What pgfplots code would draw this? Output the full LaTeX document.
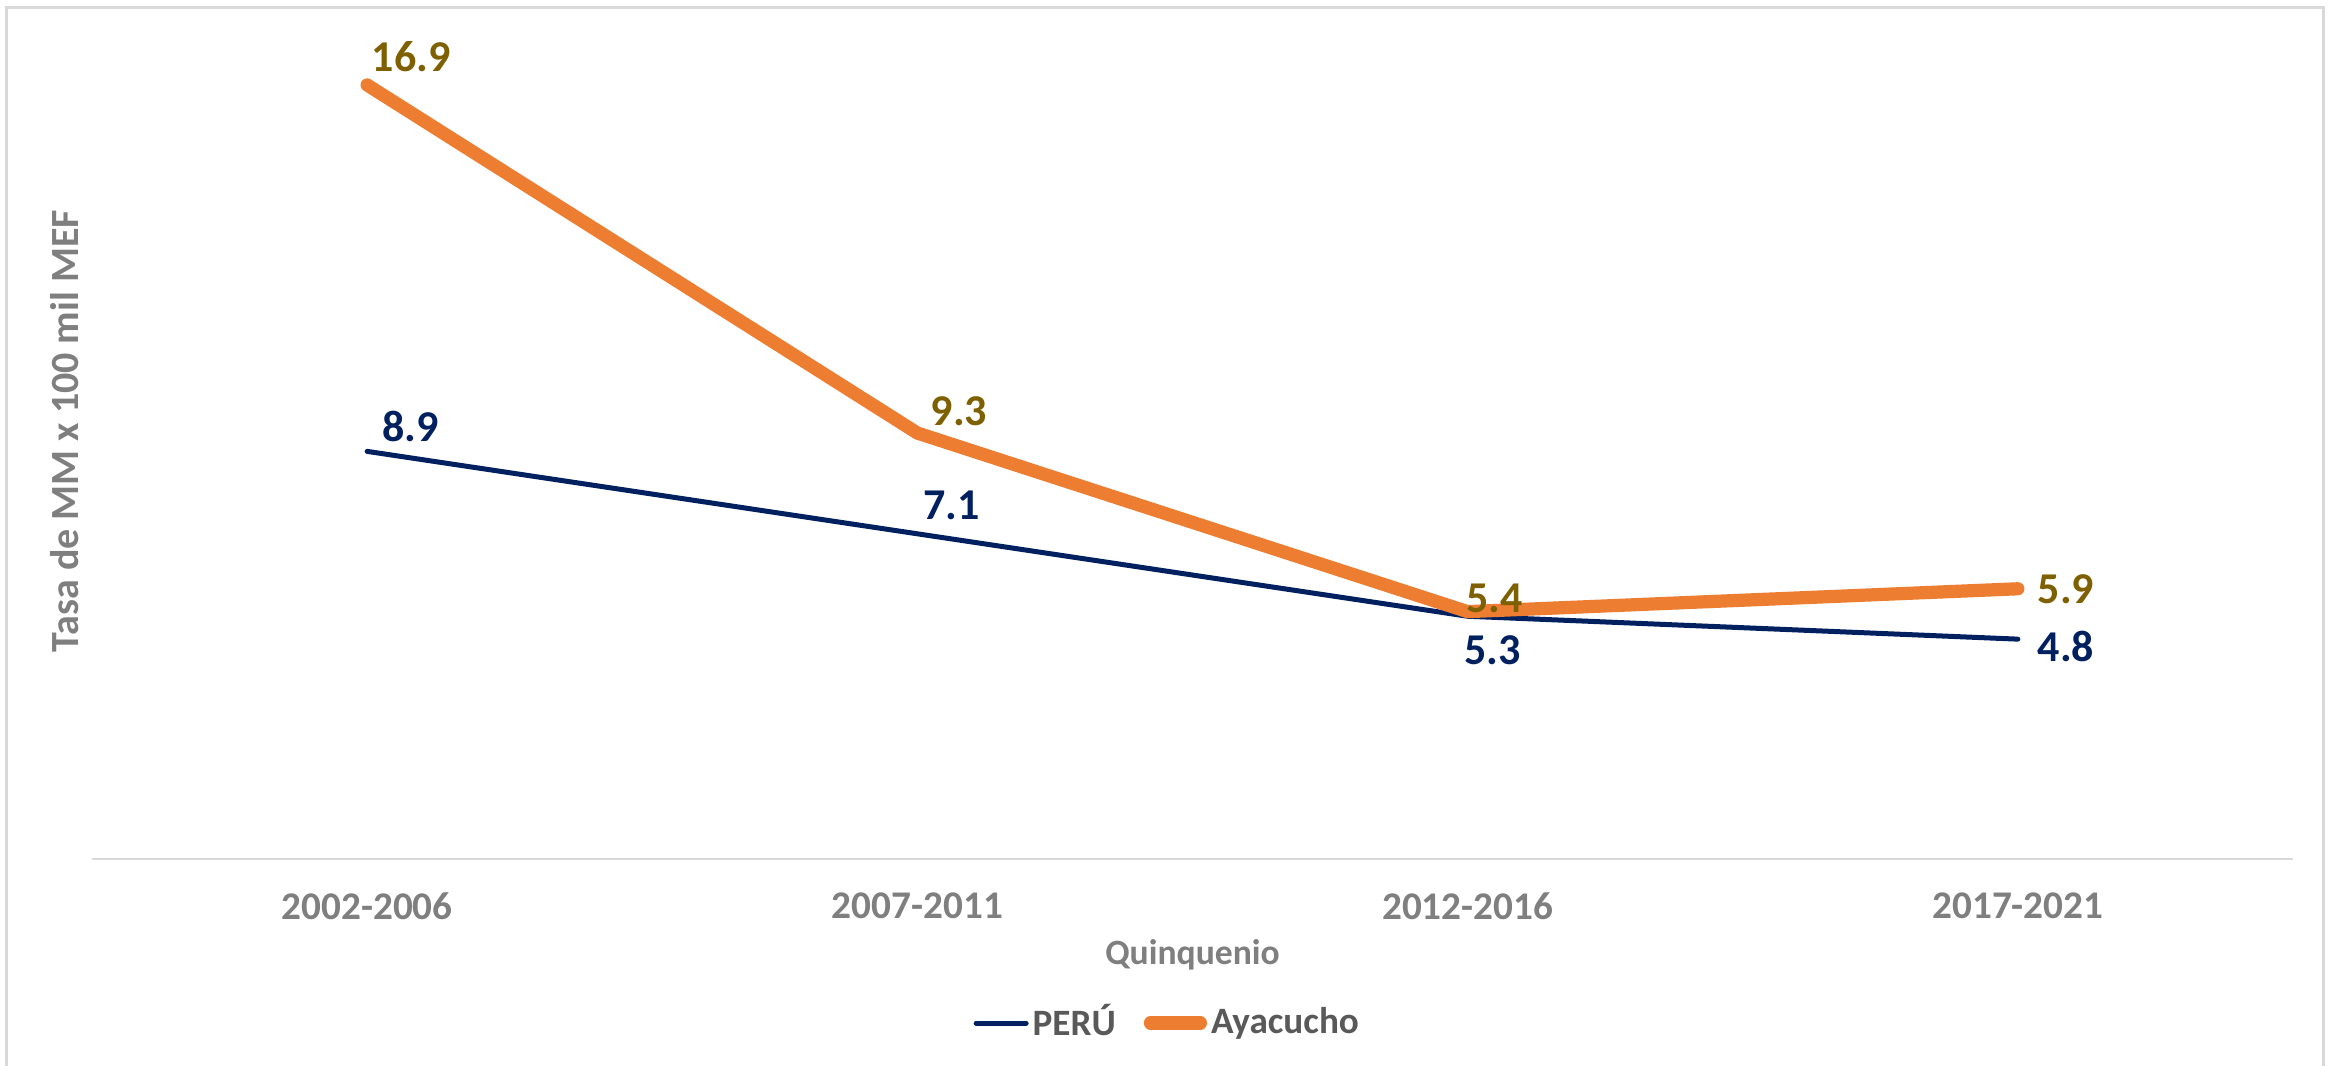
\documentclass[border=0pt]{standalone}
\usepackage{pgfplots}
\pgfplotsset{compat=1.18}
\usepackage{pgfplotstable}
\usepackage{fontspec}
\setmainfont{Carlito}
\definecolor{navy}{HTML}{002060}
\definecolor{orng}{HTML}{ED7D31}
\definecolor{gold}{HTML}{7F6000}
\definecolor{gtxt}{HTML}{7F7F7F}
\definecolor{ltxt}{HTML}{595959}
\definecolor{gline}{HTML}{D9D9D9}

\pgfplotstableread{
x y dx dy
0 8.9 10.8 6.3
1 7.1 8.5 7.0
2 5.3 6.3 -8.5
3 4.8 12.0 -1.8
}\peru
\pgfplotstableread{
x y dx dy
0 16.9 11.0 7.0
1 9.3 10.4 5.5
2 5.4 6.7 3.3
3 5.9 12.0 0.0
}\ayacucho

\begin{document}
\begin{tikzpicture}
\path[use as bounding box] (-23pt,-51.75pt) rectangle (559.5pt,214.75pt);
\fill[white] (-23pt,-51.75pt) rectangle (559.5pt,214.75pt);
\draw[gline, line width=0.75pt] (-21.25pt,-53pt) -- (-21.25pt,212.75pt) -- (557.75pt,212.75pt) -- (557.75pt,-53pt);
\begin{axis}[
  at={(0pt,0pt)}, anchor=south west,
  scale only axis,
  width=550.25pt, height=206.1pt,
  xmin=-0.5, xmax=3.5, ymin=0, ymax=18,
  axis x line*=bottom,
  axis y line*=left,
  x axis line style={gline, line width=0.6pt, -},
  y axis line style={draw=none},
  ytick=\empty,
  xtick={0,1,2,3},
  xticklabels={2002-2006,2007-2011,2012-2016,2017-2021},
  major tick length=0pt,
  xticklabel style={font=\fontsize{9.8}{11}\selectfont\bfseries, text=gtxt, anchor=center, yshift=-11.75pt},
  xlabel={Quinquenio},
  every axis x label/.style={at={(axis description cs:0.5,-0.116)}, anchor=center,
    font=\fontsize{8.9}{10}\selectfont\bfseries, text=gtxt},
  ylabel={Tasa de MM x 100 mil MEF},
  every axis y label/.style={at={(axis description cs:-0.0123,0.519)}, rotate=90, anchor=center,
    font=\fontsize{10}{11}\selectfont\bfseries, text=gtxt},
  clip=false,
  legend style={at={(axis description cs:0.489,-0.199)}, anchor=center, draw=none, fill=none,
    legend columns=-1, font=\fontsize{9.3}{11}\selectfont\bfseries, text=ltxt,
    nodes={inner xsep=1pt},
    /tikz/every even column/.append style={column sep=6pt}},
  legend image code/.code={\draw[#1] (0pt,0pt) -- (12.5pt,0pt);},
  nodes near coords,
  point meta=explicit symbolic,
  visualization depends on={\thisrow{dx} \as \ldx},
  visualization depends on={\thisrow{dy} \as \ldy},
  every node near coord/.style={anchor=center, xshift=\ldx pt, yshift=\ldy pt, font=\fontsize{11}{12}\selectfont\bfseries, inner sep=0pt},
]
\addplot[navy, line width=1.25pt, line cap=round, line join=round, mark=none,
  every node near coord/.append style={text=navy}]
  table[x=x, y=y, meta=y] {\peru};
\addlegendentry{PERÚ}
\addplot[orng, line width=3.3pt, line cap=round, line join=round, mark=none,
  every node near coord/.append style={text=gold}]
  table[x=x, y=y, meta=y] {\ayacucho};
\addlegendentry{Ayacucho}
\end{axis}
\end{tikzpicture}
\end{document}
